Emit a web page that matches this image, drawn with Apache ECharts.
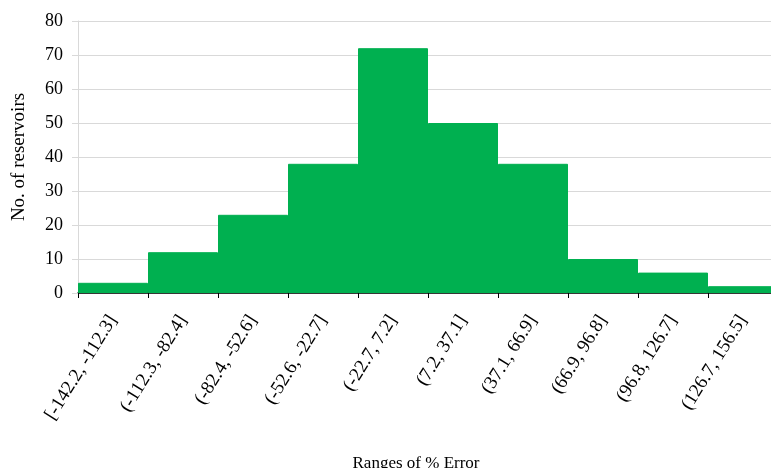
<!DOCTYPE html>
<html>
<head>
<meta charset="utf-8">
<script src="https://cdn.jsdelivr.net/npm/echarts@6/dist/echarts.min.js"></script>
<style>
  html, body { margin: 0; padding: 0; background: #fff; }
  #chart { width: 771px; height: 468px; }
</style>
</head>
<body>
<div id="chart"></div>
<script>
// histogram bins and counts
var ranges = ['[-142.2, -112.3]', '(-112.3, -82.4]', '(-82.4, -52.6]', '(-52.6, -22.7]', '(-22.7, 7.2]',
              '(7.2, 37.1]', '(37.1, 66.9]', '(66.9, 96.8]', '(96.8, 126.7]', '(126.7, 156.5]'];
var counts = [3, 12, 23, 38, 72, 50, 38, 10, 6, 2];

var myChart = echarts.init(document.getElementById('chart'));
var font = 'Liberation Serif, Times New Roman, serif';
var option = {
    animation: false,
    grid: {
        left: 78,
        right: -7,
        top: 21,
        bottom: 175,
        containLabel: false,
        outerBoundsMode: 'none'
    },
    xAxis: {
        type: 'category',
        data: ranges,
        name: 'Ranges of % Error',
        nameLocation: 'middle',
        nameGap: 162,
        nameTextStyle: { fontFamily: font, fontSize: 17, color: '#000', padding: [0, 24, 0, 0] },
        axisLine: { lineStyle: { color: '#000', width: 1.5 } },
        axisTick: { show: true, length: 5, lineStyle: { color: '#000' } },
        axisLabel: {
            rotate: 58,
            margin: 24,
            fontFamily: font,
            fontSize: 19,
            color: '#000'
        }
    },
    yAxis: {
        type: 'value',
        min: 0,
        max: 80,
        interval: 10,
        name: 'No. of reservoirs',
        nameLocation: 'middle',
        nameGap: 49,
        nameTextStyle: { fontFamily: font, fontSize: 19, color: '#000' },
        axisLine: { show: true, lineStyle: { color: '#d9d9d9' } },
        axisTick: { show: true, length: 6, lineStyle: { color: '#d9d9d9' } },
        axisLabel: { margin: 15, fontFamily: font, fontSize: 18, color: '#000' },
        splitLine: { lineStyle: { color: '#d9d9d9' } }
    },
    series: [
        {
            type: 'bar',
            data: counts,
            barCategoryGap: 0,
            itemStyle: { color: '#00b050', borderColor: '#00b050', borderWidth: 1 }
        }
    ]
};
myChart.setOption(option);
</script>
</body>
</html>
